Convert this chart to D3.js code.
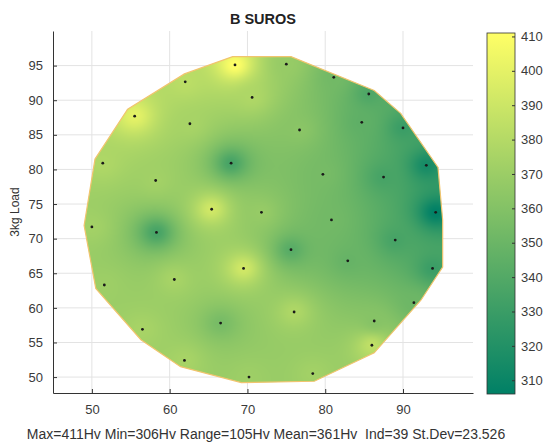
<!DOCTYPE html>
<html>
<head>
<meta charset="utf-8">
<script src="https://cdn.jsdelivr.net/npm/d3@7"></script>
<style>
  body { margin: 0; background: #fff; }
  text { font-family: "Liberation Sans", Arial, sans-serif; }
</style>
</head>
<body>
<div id="map"></div>
<script>
// measurement points (position in mm, hardness in Hv)
const ptX = [68.4, 62.0, 70.6, 55.5, 62.6, 67.9, 51.4, 58.2, 65.4, 71.8,
             75.0, 81.1, 85.6, 84.7, 76.7, 90.0, 93.0, 79.7, 87.5, 94.2,
             80.8, 50.0, 58.3, 69.5, 60.6, 51.6, 66.55, 56.5, 61.9, 70.2,
             89.0, 75.6, 82.9, 93.8, 91.4, 76.0, 86.3, 86.0, 78.4];
const ptY = [95.1, 92.65, 90.4, 87.7, 86.6, 80.9, 80.9, 78.4, 74.25, 73.8,
             95.2, 93.3, 90.9, 86.8, 85.7, 86.0, 80.6, 79.3, 78.9, 73.8,
             72.7, 71.7, 70.9, 65.7, 64.1, 63.3, 57.8, 56.9, 52.4, 50.0,
             69.8, 68.4, 66.8, 65.7, 60.75, 59.4, 58.1, 54.6, 50.5];
const hardness = [411, 383, 378, 400, 375, 335, 378, 373, 392, 368,
                  368, 353, 338, 345, 363, 330, 315, 355, 335, 306,
                  353, 373, 335, 392, 375, 371, 355, 375, 375, 371,
                  335, 342, 348, 330, 351, 378, 361, 385, 373];

// outline of the specimen
const edgeX = [68.1, 75.6, 86.3, 89.7, 94.5, 95.1, 95.1, 92.3, 86.3, 78.6,
               69.2, 61.4, 56.3, 50.5, 49.0, 50.4, 54.6, 61.9];
const edgeY = [96.3, 96.3, 91.4, 88.1, 80.3, 72.7, 65.9, 61.1, 53.5, 49.4,
               49.2, 51.5, 55.4, 62.8, 71.9, 81.5, 88.7, 93.8];

const xTicks = [50, 60, 70, 80, 90];
const yTicks = [50, 55, 60, 65, 70, 75, 80, 85, 90, 95];
const cbTicks = [310, 320, 330, 340, 350, 360, 370, 380, 390, 400, 410];

const titleText = "B SUROS";
const yLabel = "3kg Load";
const statsText = "Max=411Hv Min=306Hv Range=105Hv Mean=361Hv  Ind=39 St.Dev=23.526";

const width = 551, height = 445;
const plot = { left: 53, right: 473, top: 31, bottom: 393 };
const axisCol = "#333";

const svg = d3.select("#map")
  .append("svg")
  .attr("width", width)
  .attr("height", height)
  .attr("viewBox", [0, 0, width, height]);

const xScale = d3.scaleLinear().domain([45, 99]).range([plot.left, plot.right]);
const yScale = d3.scaleLinear().domain([47.7, 100]).range([plot.bottom, plot.top]);

const vMin = 306, vMax = 411;
// MATLAB "summer" colormap
const summer = d3.interpolateRgb("rgb(0,128,102)", "rgb(255,255,102)");
const color = d3.scaleSequential(summer).domain([vMin, vMax]);

// grid
svg.append("g")
  .selectAll("line")
  .data(xTicks)
  .join("line")
    .attr("x1", d => xScale(d)).attr("x2", d => xScale(d))
    .attr("y1", plot.top).attr("y2", plot.bottom)
    .attr("stroke", "#e3e3e3");
svg.append("g")
  .selectAll("line")
  .data(yTicks)
  .join("line")
    .attr("x1", plot.left).attr("x2", plot.right)
    .attr("y1", d => yScale(d)).attr("y2", d => yScale(d))
    .attr("stroke", "#e3e3e3");

// inverse distance interpolation onto a raster
const pw = plot.right - plot.left, ph = plot.bottom - plot.top;
const canvas = document.createElement("canvas");
canvas.width = pw; canvas.height = ph;
const ctx = canvas.getContext("2d");
const img = ctx.createImageData(pw, ph);
for (let j = 0; j < ph; j++) {
  const gy = yScale.invert(plot.top + j + 0.5);
  for (let i = 0; i < pw; i++) {
    const gx = xScale.invert(plot.left + i + 0.5);
    let num = 0, den = 0, hit = -1;
    for (let k = 0; k < ptX.length; k++) {
      const dx = gx - ptX[k], dy = gy - ptY[k];
      const d2 = dx * dx + dy * dy;
      if (d2 < 1e-9) { hit = k; break; }
      const w = 1 / d2;
      num += w * hardness[k]; den += w;
    }
    const v = hit >= 0 ? hardness[hit] : num / den;
    const c = d3.rgb(color(v));
    const o = (j * pw + i) * 4;
    img.data[o] = c.r; img.data[o + 1] = c.g; img.data[o + 2] = c.b; img.data[o + 3] = 255;
  }
}
ctx.putImageData(img, 0, 0);

const outline = edgeX.map((x, i) => [xScale(x), yScale(edgeY[i])]);

svg.append("clipPath")
  .attr("id", "specimen")
  .append("polygon")
  .attr("points", outline.map(p => p.join(",")).join(" "));

svg.append("image")
  .attr("x", plot.left).attr("y", plot.top)
  .attr("width", pw).attr("height", ph)
  .attr("preserveAspectRatio", "none")
  .attr("href", canvas.toDataURL())
  .attr("clip-path", "url(#specimen)");

svg.append("polygon")
  .attr("points", outline.map(p => p.join(",")).join(" "))
  .attr("fill", "none")
  .attr("stroke", "#f1c46e")
  .attr("stroke-width", 1.2);

// measurement dots
svg.append("g")
  .selectAll("circle")
  .data(hardness)
  .join("circle")
    .attr("cx", (d, i) => xScale(ptX[i]))
    .attr("cy", (d, i) => yScale(ptY[i]))
    .attr("r", 1.4)
    .attr("fill", "#1a1a1a");

// axes (ticks inward, MATLAB style)
const xAxis = svg.append("g")
  .attr("transform", `translate(0,${plot.bottom})`)
  .call(d3.axisBottom(xScale).tickValues(xTicks).tickSizeInner(-4).tickSizeOuter(0).tickPadding(12));
const yAxis = svg.append("g")
  .attr("transform", `translate(${plot.left},0)`)
  .call(d3.axisLeft(yScale).tickValues(yTicks).tickSizeInner(-4).tickSizeOuter(0).tickPadding(10));
[xAxis, yAxis].forEach(a => {
  a.select(".domain").attr("stroke", axisCol);
  a.selectAll(".tick line").attr("stroke", axisCol);
  a.selectAll("text").attr("fill", "#3a3a3a").attr("font-size", 13)
    .attr("font-family", "'Liberation Sans', Arial, sans-serif");
});

// colorbar
const cb = { x: 487, w: 28, top: 33, bottom: 394 };
const cScale = d3.scaleLinear().domain([vMin, vMax]).range([cb.bottom, cb.top]);
const grad = svg.append("defs").append("linearGradient")
  .attr("id", "cbgrad").attr("x1", 0).attr("y1", 1).attr("x2", 0).attr("y2", 0);
d3.range(0, 1.01, 0.1).forEach(t => {
  grad.append("stop").attr("offset", t).attr("stop-color", summer(t));
});
svg.append("rect")
  .attr("x", cb.x).attr("y", cb.top)
  .attr("width", cb.w).attr("height", cb.bottom - cb.top)
  .attr("fill", "url(#cbgrad)")
  .attr("stroke", axisCol).attr("stroke-width", 0.8);
const cAxis = svg.append("g")
  .attr("transform", `translate(${cb.x + cb.w},0)`)
  .call(d3.axisRight(cScale).tickValues(cbTicks).tickSizeInner(-3).tickSizeOuter(0).tickPadding(6));
cAxis.select(".domain").remove();
cAxis.selectAll(".tick line").attr("stroke", axisCol);
cAxis.selectAll("text").attr("fill", "#3a3a3a").attr("font-size", 13)
  .attr("font-family", "'Liberation Sans', Arial, sans-serif");

// labels
svg.append("text")
  .attr("x", (plot.left + plot.right) / 2).attr("y", 24)
  .attr("text-anchor", "middle")
  .attr("font-size", 14.5).attr("font-weight", "bold")
  .attr("fill", "#222")
  .text(titleText);

svg.append("text")
  .attr("transform", `translate(19,${(plot.top + plot.bottom) / 2}) rotate(-90)`)
  .attr("text-anchor", "middle")
  .attr("font-size", 12).attr("fill", "#333")
  .text(yLabel);

svg.append("text")
  .attr("x", 266).attr("y", 439)
  .attr("text-anchor", "middle")
  .attr("font-size", 14).attr("fill", "#333")
  .attr("xml:space", "preserve")
  .text(statsText);
</script>
</body>
</html>
